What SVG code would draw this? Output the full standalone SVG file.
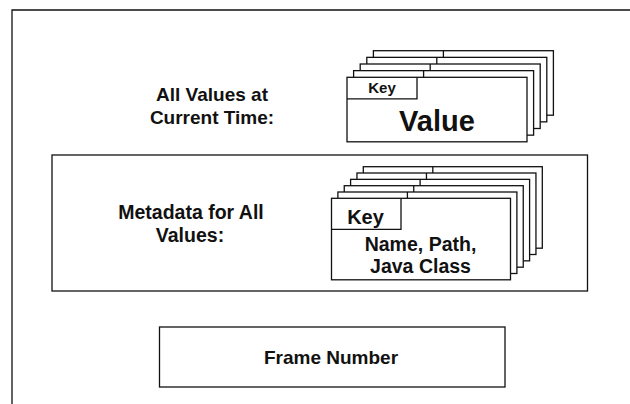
<svg xmlns="http://www.w3.org/2000/svg" xmlns:xlink="http://www.w3.org/1999/xlink" width="630" height="404" viewBox="0 0 630 404">
<style>
.ln{fill:none;stroke:#111;stroke-width:1.3}
.card{fill:#fff;stroke:#111;stroke-width:1.3}
.t{font-family:"Liberation Sans",Arial,Helvetica,sans-serif;font-weight:bold;fill:#111;text-anchor:middle}
</style>
<defs>
<g id="vcard"><rect class="card" x="0" y="0" width="180" height="64.5"/><path class="ln" d="M0 21.5H70V0"/></g>
<g id="mcard"><rect class="card" x="0" y="0" width="179" height="81.5"/><path class="ln" d="M0 31H69.5V0"/></g>
</defs>
<rect width="630" height="404" fill="#fff"/>
<g id="frame"><path class="ln" d="M12 404V10H630"/></g>
<g id="connectors"/>
<g id="label-current">
<text class="t" x="212" y="100.5" font-size="19">All Values at</text>
<text class="t" x="212" y="123.5" font-size="19">Current Time:</text>
</g>
<g id="value-stack">
<use xlink:href="#vcard" x="373.4" y="50.7"/>
<use xlink:href="#vcard" x="366.8" y="57.35"/>
<use xlink:href="#vcard" x="360.2" y="64"/>
<use xlink:href="#vcard" x="353.6" y="70.65"/>
<use xlink:href="#vcard" x="347" y="77.3"/>
<text class="t" x="382" y="93" font-size="15">Key</text>
<text class="t" x="437" y="130.5" font-size="29">Value</text>
</g>
<g id="meta-box"><rect class="ln" x="52" y="155" width="535.5" height="136"/></g>
<g id="label-meta">
<text class="t" x="191" y="218.5" font-size="19.5">Metadata for All</text>
<text class="t" x="190" y="242" font-size="19.5">Values:</text>
</g>
<g id="meta-stack">
<use xlink:href="#mcard" x="363.3" y="166.7"/>
<use xlink:href="#mcard" x="356.95" y="173"/>
<use xlink:href="#mcard" x="350.6" y="179.35"/>
<use xlink:href="#mcard" x="344.25" y="185.7"/>
<use xlink:href="#mcard" x="337.9" y="192"/>
<use xlink:href="#mcard" x="331.5" y="198.3"/>
<text class="t" x="365.5" y="223.5" font-size="20">Key</text>
<text class="t" x="420.5" y="251" font-size="19.5">Name, Path,</text>
<text class="t" x="420.5" y="273" font-size="19.5">Java Class</text>
</g>
<g id="frame-number">
<rect class="ln" x="159.5" y="327" width="345.5" height="60"/>
<text class="t" x="331" y="363.5" font-size="19">Frame Number</text>
</g>
</svg>
